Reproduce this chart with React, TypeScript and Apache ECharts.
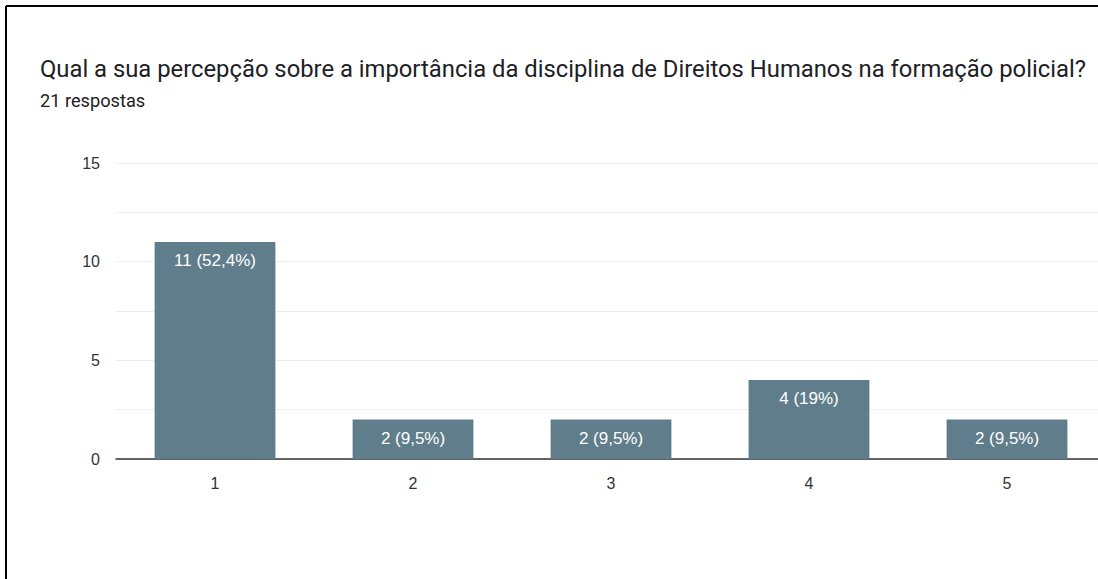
import React, { useEffect, useRef } from "react";
import * as echarts from "echarts";

const categories = ["1", "2", "3", "4", "5"];
const values = [11, 2, 2, 4, 2];
const labels = ["11 (52,4%)", "2 (9,5%)", "2 (9,5%)", "4 (19%)", "2 (9,5%)"];
const titleText = "Qual a sua percepção sobre a importância da disciplina de Direitos Humanos na formação policial?";
const subtitleText = "21 respostas";

export default function App() {
  const ref = useRef<HTMLDivElement>(null);
  useEffect(() => {
    document.body.style.margin = "0";
    const chart = echarts.init(ref.current!, null, { renderer: "svg" });
    chart.setOption({
      animation: false,
      backgroundColor: "#ffffff",
      textStyle: { fontFamily: "Roboto" },
      title: {
        text: titleText,
        subtext: subtitleText,
        left: 35,
        top: 52,
        itemGap: 10,
        textStyle: { fontFamily: "Roboto", fontSize: 23.8, fontWeight: "normal", color: "#202124" },
        subtextStyle: { fontFamily: "Roboto", fontSize: 18.2, color: "#202124" },
      },
      graphic: [
        { type: "line", shape: { x1: 6, y1: 6, x2: 1110, y2: 6 }, style: { stroke: "#000", lineWidth: 2 } },
        { type: "line", shape: { x1: 6, y1: 6, x2: 6, y2: 579 }, style: { stroke: "#000", lineWidth: 2 } },
      ],
      grid: { left: 116, right: 4, top: 163, bottom: 120, containLabel: false },
      xAxis: {
        type: "category",
        data: categories,
        axisLine: { lineStyle: { color: "#333333", width: 1.5 } },
        axisTick: { show: false },
        axisLabel: { color: "#333333", fontSize: 16, margin: 16, fontFamily: "Liberation Sans" },
      },
      yAxis: {
        type: "value",
        min: 0,
        max: 15,
        interval: 2.5,
        axisLine: { show: false },
        axisTick: { show: false },
        axisLabel: {
          color: "#333333",
          fontSize: 16,
          margin: 16,
          fontFamily: "Liberation Sans",
          formatter: (v: number) => (v % 5 === 0 ? String(v) : ""),
        },
        splitLine: { lineStyle: { color: "#eeeeee", width: 1 } },
      },
      series: [
        {
          type: "bar",
          data: values,
          barWidth: "61%",
          itemStyle: { color: "#607d8b" },
          label: {
            show: true,
            position: "insideTop",
            distance: 10,
            color: "#ffffff",
            fontSize: 17,
            fontFamily: "Liberation Sans",
            formatter: (p: any) => labels[p.dataIndex],
          },
        },
      ],
    });
    return () => chart.dispose();
  }, []);
  return (
    <div style={{ width: 1098, height: 579, overflow: "hidden", position: "relative" }}>
      <div ref={ref} style={{ width: 1110, height: 579 }} />
    </div>
  );
}
